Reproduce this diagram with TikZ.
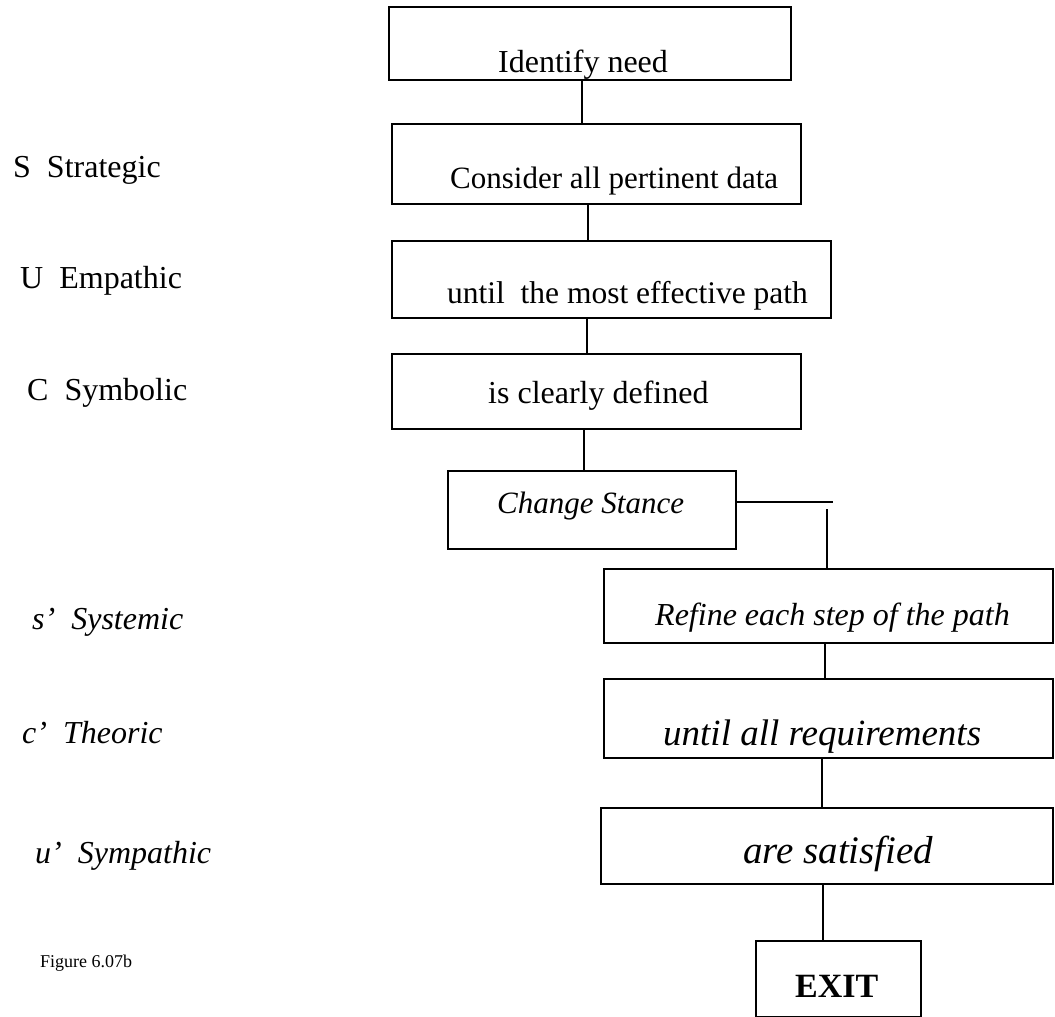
\documentclass[tikz,border=0pt]{standalone}
\usepackage{fontspec}
\setmainfont{Liberation Serif}
\begin{document}
\begin{tikzpicture}[x=1pt,y=-1pt,
  box/.style={draw, line width=1.6pt, rectangle, inner sep=0pt, anchor=north west},
  txt/.style={anchor=base west, inner sep=0pt},
  link/.style={line width=1.6pt},
  side/.style={anchor=base west, inner sep=0pt, font=\fontsize{32}{38}\selectfont}]
\useasboundingbox (0,0) rectangle (1055,1017);

% left-hand column of labels
\node[side] (sS) at (13,177) {S\ \ Strategic};
\node[side] (sU) at (20,288) {U\ \ Empathic};
\node[side] (sC) at (27,400) {C\ \ Symbolic};
\node[side, font=\fontsize{32}{38}\selectfont\itshape] (ss) at (32,629) {s’\ \ Systemic};
\node[side, font=\fontsize{32}{38}\selectfont\itshape] (sc) at (22,743) {c’\ \ Theoric};
\node[side, font=\fontsize{32}{38}\selectfont\itshape] (su) at (35,863) {u’\ \ Sympathic};
\node[txt, font=\fontsize{18}{22}\selectfont] (fig) at (40,967) {Figure 6.07b};

% process boxes
\node[box, minimum width=402, minimum height=73] (b1) at (388,6) {};
\node[box, minimum width=409, minimum height=80] (b2) at (391,123) {};
\node[box, minimum width=439, minimum height=77] (b3) at (391,240) {};
\node[box, minimum width=409, minimum height=75] (b4) at (391,353) {};
\node[box, minimum width=288, minimum height=78] (b5) at (447,470) {};
\node[box, minimum width=449, minimum height=74] (b6) at (603,568) {};
\node[box, minimum width=449, minimum height=79] (b7) at (603,678) {};
\node[box, minimum width=452, minimum height=76] (b8) at (600,807) {};
\node[box, minimum width=165, minimum height=76] (b9) at (755,940) {};

% box texts
\node[txt, font=\fontsize{32}{38}\selectfont] (t1) at (498,72) {Identify need};
\node[txt, font=\fontsize{31}{37}\selectfont] (t2) at (450,188) {Consider all pertinent data};
\node[txt, font=\fontsize{31.5}{37}\selectfont] (t3) at (447,303) {until\ \ the most effective path};
\node[txt, font=\fontsize{32}{38}\selectfont] (t4) at (488,403) {is clearly defined};
\node[txt, font=\fontsize{31}{37}\selectfont\itshape] (t5) at (497,513) {Change Stance};
\node[txt, font=\fontsize{32}{38}\selectfont\itshape] (t6) at (655,625) {Refine each step of the path};
\node[txt, font=\fontsize{37}{44}\selectfont\itshape] (t7) at (663,745) {until all requirements};
\node[txt, font=\fontsize{39}{46}\selectfont\itshape] (t8) at (743,863) {are satisfied};
\node[txt, font=\fontsize{34}{40}\selectfont\bfseries] (t9) at (795,997) {EXIT};

% vertical connectors
\coordinate (x12) at (582,0);
\coordinate (x23) at (588,0);
\coordinate (x34) at (587,0);
\coordinate (x45) at (584,0);
\coordinate (x67) at (825,0);
\coordinate (x78) at (822,0);
\coordinate (x89) at (823,0);
\draw[link] (x12 |- b1.south) -- (x12 |- b2.north);
\draw[link] (x23 |- b2.south) -- (x23 |- b3.north);
\draw[link] (x34 |- b3.south) -- (x34 |- b4.north);
\draw[link] (x45 |- b4.south) -- (x45 |- b5.north);
\draw[link] (x67 |- b6.south) -- (x67 |- b7.north);
\draw[link] (x78 |- b7.south) -- (x78 |- b8.north);
\draw[link] (x89 |- b8.south) -- (x89 |- b9.north);

% stance change: out to the right, then down to the refined path
\coordinate (elbow) at (833,502);
\coordinate (drop) at (827,509);
\draw[link] (b5.east |- elbow) -- (elbow);
\draw[link] (drop) -- (drop |- b6.north);
\end{tikzpicture}
\end{document}
